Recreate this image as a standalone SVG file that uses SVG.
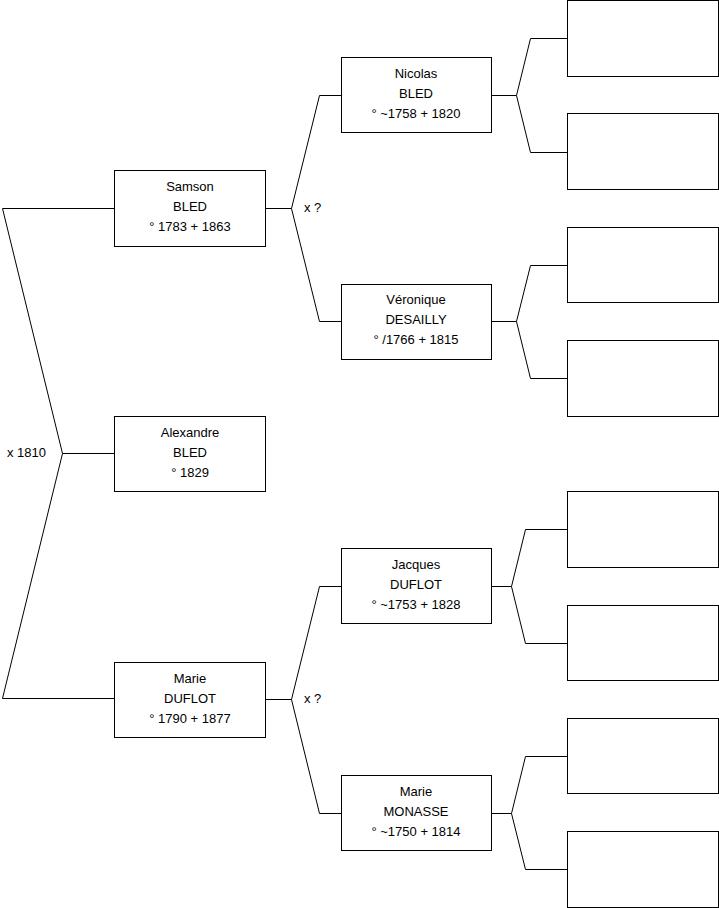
<svg xmlns="http://www.w3.org/2000/svg" width="719" height="908" viewBox="0 0 719 908">
<style>
.box{fill:#fff;stroke:#000;stroke-width:1}
.ln{fill:none;stroke:#000;stroke-width:1}
text{font-family:"Liberation Sans",Arial,sans-serif;font-size:13px;fill:#000}
.c{text-anchor:middle}
</style>
<rect width="719" height="908" fill="#fff"/>
<g id="connectors">
<path class="ln" d="M114,208.5 H2.5 L62.5,453.5 L2.5,698.5 H114"/>
<path class="ln" d="M62.5,453.5 H114"/>
<path class="ln" d="M265,208.5 H291.5 M341,95.5 H319.5 L291.5,208.5 L319.5,321.5 H341"/>
<path class="ln" d="M265,699.5 H291.5 M341,586.5 H319.5 L291.5,699.5 L319.5,813.5 H341"/>
<path class="ln" d="M492,95.5 H516.5 M567,38.5 H530.5 L516.5,95.5 L530.5,152.5 H567"/>
<path class="ln" d="M492,321.5 H516.5 M567,265.5 H530.5 L516.5,321.5 L530.5,378.5 H567"/>
<path class="ln" d="M492,586.5 H511.5 M567,529.5 H525.5 L511.5,586.5 L525.5,643.5 H567"/>
<path class="ln" d="M492,813.5 H511.5 M567,756.5 H525.5 L511.5,813.5 L525.5,869.5 H567"/>
<text x="7" y="457">x 1810</text>
<text x="304" y="212">x ?</text>
<text x="304" y="703">x ?</text>
</g>
<g id="samson"><rect class="box" x="114.5" y="170.5" width="151" height="76"/>
<text class="c" x="190" y="191">Samson</text><text class="c" x="190" y="211">BLED</text><text class="c" x="190" y="231">° 1783 + 1863</text></g>
<g id="alexandre"><rect class="box" x="114.5" y="416.5" width="151" height="75"/>
<text class="c" x="190" y="437">Alexandre</text><text class="c" x="190" y="457">BLED</text><text class="c" x="190" y="477">° 1829</text></g>
<g id="marie-duflot"><rect class="box" x="114.5" y="662.5" width="151" height="75"/>
<text class="c" x="190" y="683">Marie</text><text class="c" x="190" y="703">DUFLOT</text><text class="c" x="190" y="723">° 1790 + 1877</text></g>
<g id="nicolas"><rect class="box" x="341.5" y="57.5" width="150" height="75"/>
<text class="c" x="416" y="78">Nicolas</text><text class="c" x="416" y="98">BLED</text><text class="c" x="416" y="118">° ~1758 + 1820</text></g>
<g id="veronique"><rect class="box" x="341.5" y="284.5" width="150" height="75"/>
<text class="c" x="416" y="304">Véronique</text><text class="c" x="416" y="324">DESAILLY</text><text class="c" x="416" y="344">° /1766 + 1815</text></g>
<g id="jacques"><rect class="box" x="341.5" y="548.5" width="150" height="75"/>
<text class="c" x="416" y="569">Jacques</text><text class="c" x="416" y="589">DUFLOT</text><text class="c" x="416" y="609">° ~1753 + 1828</text></g>
<g id="marie-monasse"><rect class="box" x="341.5" y="775.5" width="150" height="75"/>
<text class="c" x="416" y="796">Marie</text><text class="c" x="416" y="816">MONASSE</text><text class="c" x="416" y="836">° ~1750 + 1814</text></g>
<g id="gp1"><rect class="box" x="567.5" y="0.5" width="151" height="76"/></g>
<g id="gp2"><rect class="box" x="567.5" y="113.5" width="151" height="76"/></g>
<g id="gp3"><rect class="box" x="567.5" y="227.5" width="151" height="75"/></g>
<g id="gp4"><rect class="box" x="567.5" y="340.5" width="151" height="76"/></g>
<g id="gp5"><rect class="box" x="567.5" y="491.5" width="151" height="76"/></g>
<g id="gp6"><rect class="box" x="567.5" y="605.5" width="151" height="75"/></g>
<g id="gp7"><rect class="box" x="567.5" y="718.5" width="151" height="75"/></g>
<g id="gp8"><rect class="box" x="567.5" y="831.5" width="151" height="76"/></g>
</svg>
